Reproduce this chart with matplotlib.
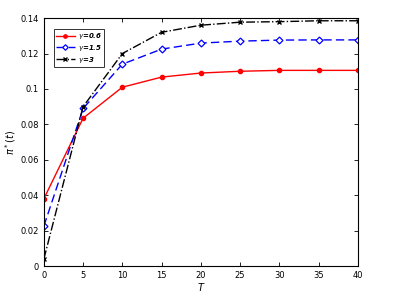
import matplotlib
matplotlib.use('Agg')
import matplotlib.pyplot as plt

# 数据
T = [0, 5, 10, 15, 20, 25, 30, 35, 40]
pi_06 = [0.038, 0.0835, 0.101, 0.1067, 0.109, 0.110, 0.1105, 0.1105, 0.1105]
pi_15 = [0.0226, 0.089, 0.114, 0.1225, 0.1259, 0.127, 0.1276, 0.1277, 0.1277]
pi_3 = [0.004, 0.090, 0.120, 0.132, 0.136, 0.1377, 0.138, 0.1385, 0.1385]
labels = [r'$\gamma$=0.6', r'$\gamma$=1.5', r'$\gamma$=3']

fig = plt.figure(figsize=(3.95, 2.97), dpi=100)
ax = fig.add_axes([0.111, 0.104, 0.795, 0.835])

ax.plot(T, pi_06, 'r-', marker='o', markersize=3, linewidth=1.0, label=labels[0])
ax.plot(T, pi_15, 'b--', marker='D', markersize=3.5, markerfacecolor='white',
        markeredgewidth=0.9, linewidth=1.0, dashes=(6, 3), label=labels[1])
ax.plot(T, pi_3, 'k-.', marker='x', markersize=3, linewidth=1.0, label=labels[2])

ax.set_xlim(0, 40)
ax.set_ylim(0, 0.14)
ax.set_xticks(range(0, 41, 5))
ax.set_yticks([0, 0.02, 0.04, 0.06, 0.08, 0.1, 0.12, 0.14])
ax.set_yticklabels(['0', '0.02', '0.04', '0.06', '0.08', '0.1', '0.12', '0.14'])
ax.tick_params(direction='in', top=True, right=True, labelsize=6, length=3, width=0.6)
for s in ax.spines.values():
    s.set_linewidth(0.8)

ax.set_xlabel('$T$', fontsize=7, labelpad=1)
ax.set_ylabel(r'$\pi^*(t)$', fontsize=7, labelpad=2)

leg = ax.legend(loc='upper left', prop={'style': 'italic', 'weight': 'bold', 'size': 5},
                fancybox=False, edgecolor='black', handlelength=2.8, handletextpad=0.4,
                borderpad=0.3, labelspacing=0.25, markerscale=0.8,
                bbox_to_anchor=(0.02, 0.97))
leg.get_frame().set_linewidth(0.7)

plt.savefig('out.png', dpi=100)
